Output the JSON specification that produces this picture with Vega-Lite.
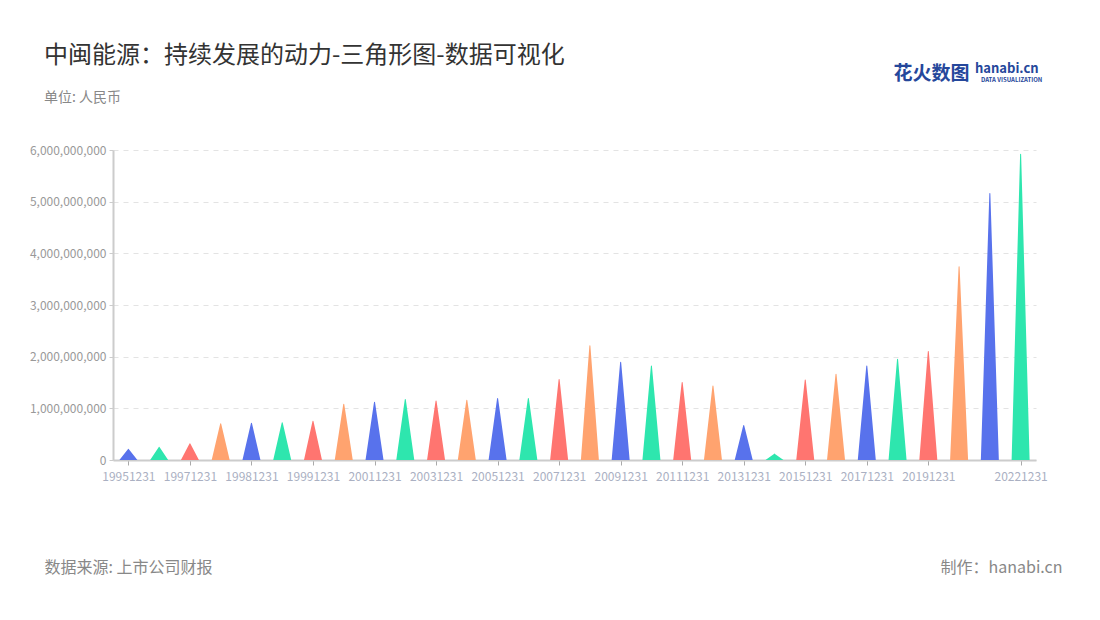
{
  "$schema": "https://vega.github.io/schema/vega-lite/v6.json",
  "width": 923,
  "height": 310,
  "autosize": {"type": "none"},
  "padding": {"left": 113, "top": 150, "right": 64, "bottom": 160},
  "background": "#ffffff",
  "config": {
    "font": "Noto Sans CJK SC",
    "view": {"stroke": null}
  },
  "title": {
    "text": "中闽能源：持续发展的动力-三角形图-数据可视化",
    "subtitle": "单位: 人民币",
    "anchor": "start",
    "frame": "group",
    "dx": -69,
    "dy": 82,
    "offset": 40,
    "font": "Noto Sans CJK SC",
    "fontSize": 24,
    "fontWeight": "normal",
    "color": "#333333",
    "subtitleFont": "Noto Sans CJK SC",
    "subtitleFontSize": 14,
    "subtitleColor": "#888888",
    "subtitlePadding": 23
  },
  "data": {
    "values": [
      {"date": "19951231", "value": 210000000, "end": "tip"},
      {"date": "19961231", "value": 245000000, "end": "tip"},
      {"date": "19971231", "value": 316000000, "end": "tip"},
      {"date": "19980630", "value": 700000000, "end": "tip"},
      {"date": "19981231", "value": 710000000, "end": "tip"},
      {"date": "19990630", "value": 720000000, "end": "tip"},
      {"date": "19991231", "value": 750000000, "end": "tip"},
      {"date": "20001231", "value": 1080000000, "end": "tip"},
      {"date": "20011231", "value": 1120000000, "end": "tip"},
      {"date": "20021231", "value": 1170000000, "end": "tip"},
      {"date": "20031231", "value": 1140000000, "end": "tip"},
      {"date": "20041231", "value": 1155000000, "end": "tip"},
      {"date": "20051231", "value": 1190000000, "end": "tip"},
      {"date": "20061231", "value": 1190000000, "end": "tip"},
      {"date": "20071231", "value": 1560000000, "end": "tip"},
      {"date": "20081231", "value": 2210000000, "end": "tip"},
      {"date": "20091231", "value": 1890000000, "end": "tip"},
      {"date": "20101231", "value": 1820000000, "end": "tip"},
      {"date": "20111231", "value": 1500000000, "end": "tip"},
      {"date": "20121231", "value": 1430000000, "end": "tip"},
      {"date": "20131231", "value": 670000000, "end": "tip"},
      {"date": "20141231", "value": 116000000, "end": "tip"},
      {"date": "20151231", "value": 1550000000, "end": "tip"},
      {"date": "20161231", "value": 1660000000, "end": "tip"},
      {"date": "20171231", "value": 1820000000, "end": "tip"},
      {"date": "20181231", "value": 1950000000, "end": "tip"},
      {"date": "20191231", "value": 2100000000, "end": "tip"},
      {"date": "20201231", "value": 3740000000, "end": "tip"},
      {"date": "20211231", "value": 5160000000, "end": "tip"},
      {"date": "20221231", "value": 5920000000, "end": "tip"}
    ]
  },
  "layer": [
    {
      "transform": [
        {"impute": "value", "key": "end", "keyvals": ["base", "tip"], "groupby": ["date"], "value": 0}
      ],
      "mark": {"type": "trail", "clip": true},
      "encoding": {
        "x": {
          "field": "date",
          "type": "ordinal",
          "scale": {"type": "point", "padding": 0.5},
          "axis": {
            "orient": "bottom",
            "values": ["19951231", "19971231", "19981231", "19991231", "20011231", "20031231", "20051231", "20071231", "20091231", "20111231", "20131231", "20151231", "20171231", "20191231", "20221231"],
            "labelAngle": 0,
            "labelFont": "Noto Sans CJK SC",
            "labelFontSize": 12,
            "labelColor": "#aab0c2",
            "labelPadding": 6,
            "tickSize": 5,
            "tickColor": "#aaaaaa",
            "domainColor": "#cccccc",
            "domainWidth": 2,
            "grid": false,
            "title": "数据来源: 上市公司财报",
            "titleX": -69,
            "titleY": 107,
            "titleAlign": "left",
            "titleBaseline": "middle",
            "titleFont": "Noto Sans CJK SC",
            "titleFontSize": 16,
            "titleFontWeight": "normal",
            "titleColor": "#888888"
          }
        },
        "y": {
          "field": "value",
          "type": "quantitative",
          "scale": {"domain": [0, 6000000000], "nice": false},
          "axis": {
            "orient": "left",
            "values": [0, 1000000000, 2000000000, 3000000000, 4000000000, 5000000000, 6000000000],
            "format": ",.0f",
            "labelFont": "Noto Sans CJK SC",
            "labelFontSize": 12,
            "labelColor": "#999999",
            "labelPadding": 3,
            "tickSize": 4,
            "tickColor": "#cccccc",
            "domainColor": "#cccccc",
            "domainWidth": 2,
            "gridColor": "#e3e3e3",
            "gridDash": [5, 5],
            "title": null
          }
        },
        "size": {
          "field": "value",
          "type": "quantitative",
          "scale": {"type": "threshold", "domain": [1], "range": [18, 0]},
          "legend": null
        },
        "color": {
          "field": "date",
          "type": "nominal",
          "scale": {"range": ["#5872ec", "#2ee6ae", "#ff7570", "#ffa36f"]},
          "legend": null
        }
      }
    },
    {
      "mark": {"type": "point", "opacity": 0},
      "encoding": {
        "x": {
          "field": "date",
          "type": "ordinal",
          "axis": {
            "orient": "top",
            "labels": false,
            "ticks": false,
            "domain": false,
            "grid": false,
            "title": "制作：hanabi.cn",
            "titleX": 949,
            "titleY": 417,
            "titleAlign": "right",
            "titleBaseline": "middle",
            "titleFont": "Noto Sans CJK SC",
            "titleFontSize": 16,
            "titleFontWeight": "normal",
            "titleColor": "#888888"
          }
        },
        "y": {
          "field": "value",
          "type": "quantitative",
          "axis": {
            "orient": "right",
            "labels": false,
            "ticks": false,
            "domain": false,
            "grid": false,
            "title": "花火数图",
            "titleAngle": 0,
            "titleX": -143,
            "titleY": -77,
            "titleAlign": "left",
            "titleBaseline": "middle",
            "titleFont": "Noto Sans CJK SC",
            "titleFontSize": 19,
            "titleFontWeight": "bold",
            "titleColor": "#25479b"
          }
        },
        "shape": {
          "datum": "DATA VISUALIZATION",
          "legend": {
            "orient": "none",
            "legendX": 862,
            "legendY": -87,
            "title": "hanabi.cn",
            "titleFont": "Noto Sans CJK SC",
            "titleFontSize": 13,
            "titleFontWeight": "bold",
            "titleColor": "#25479b",
            "titlePadding": 1,
            "labelFont": "Noto Sans CJK SC",
            "labelFontSize": 6,
            "labelFontWeight": "bold",
            "labelColor": "#25479b",
            "labelOffset": 0,
            "symbolSize": 0,
            "symbolOpacity": 0,
            "symbolStrokeWidth": 0,
            "padding": 0,
            "rowPadding": 0
          }
        }
      }
    }
  ],
  "resolve": {"axis": {"x": "independent", "y": "independent"}}
}
